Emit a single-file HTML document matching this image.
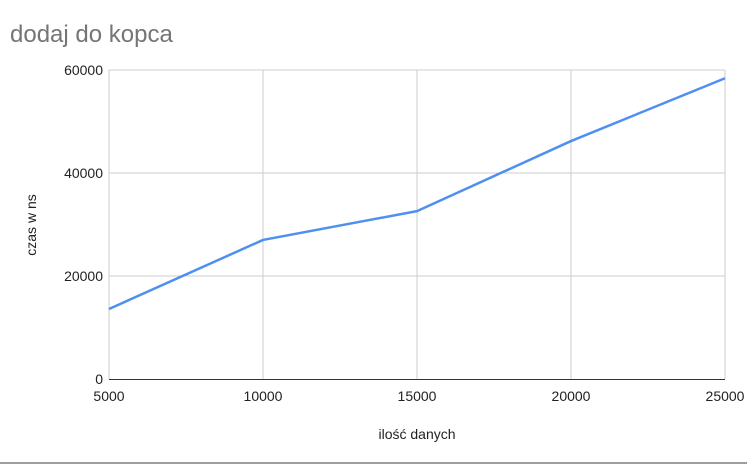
<!DOCTYPE html>
<html><head><meta charset="utf-8"><style>
body{margin:0;background:#fff;}
svg{display:block;font-family:"Liberation Sans",Arial,sans-serif;}
</style></head><body>
<svg id="chart" width="747" height="464">
<text x="10" y="42" font-size="24" fill="#757575">dodaj do kopca</text>
<g id="grid"></g>
<g id="xt"></g><g id="yt"></g>
<text x="36" y="225" font-size="14" fill="#222" transform="rotate(-90 36 225)" text-anchor="middle">czas w ns</text>
<text x="417" y="439" font-size="14" fill="#222" text-anchor="middle">ilość danych</text>
<line x1="0" y1="463" x2="747" y2="463" stroke="#9e9e9e" stroke-width="2"/>
</svg>
<script>
const categories=[5000,10000,15000,20000,25000];
const values=[13600,27000,32600,46200,58400];
const yTicks=[0,20000,40000,60000];
const x0=109,x1=725,y0=379,y1=70;
const sx=v=>x0+(v-5000)/(25000-5000)*(x1-x0);
const sy=v=>y0-v/60000*(y0-y1);
const NS="http://www.w3.org/2000/svg";
const svg=document.getElementById('chart');
const grid=document.getElementById('grid');
function mk(t,a,p){const e=document.createElementNS(NS,t);for(const k in a)e.setAttribute(k,a[k]);(p||svg).appendChild(e);return e;}
yTicks.forEach(t=>{
 if(t>0){const l=mk('line',{x1:x0,x2:x1,y1:sy(t),y2:sy(t),stroke:'#ccc'},grid);
 
 }
 const tx=mk('text',{x:x0-6,y:sy(t)+5,'font-size':14,fill:'#222','text-anchor':'end'},document.getElementById('yt'));
 tx.textContent=t;
 
 
});
categories.forEach(c=>{
 const l=mk('line',{x1:sx(c),x2:sx(c),y1:y1,y2:y0,stroke:'#ccc'},grid);
 
 
 const tx=mk('text',{x:sx(c),y:401,'font-size':14,fill:'#222','text-anchor':'middle'},document.getElementById('xt'));
 tx.textContent=c;
 
 
});
const ax=mk('line',{x1:x0,x2:x1,y1:y0+0.5,y2:y0+0.5,stroke:'#333','stroke-width':1});


const pl=mk('polyline',{points:categories.map((c,i)=>sx(c)+','+sy(values[i])).join(' '),fill:'none',stroke:'#4f8ff0','stroke-width':2.5,'stroke-linejoin':'round'});


</script>
</body></html>
